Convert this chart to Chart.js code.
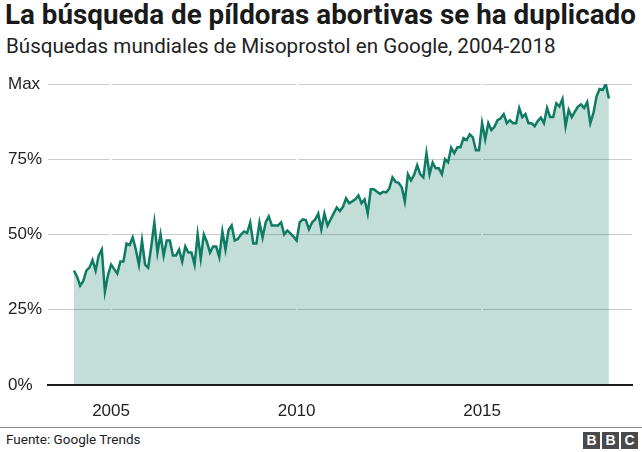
<!DOCTYPE html>
<html>
<head>
<meta charset="utf-8">
<script src="https://cdn.jsdelivr.net/npm/chart.js@4.4.1/dist/chart.umd.min.js"></script>
<style>
    html, body { margin: 0; padding: 0; background: #fff; }
    body { width: 642px; height: 452px; position: relative; overflow: hidden; color: #222; font-family: Roboto, sans-serif; }
    #title { position: absolute; left: 5px; top: -2px; font-weight: bold; font-size: 27.8px; white-space: nowrap; color: #1a1a1a; }
    #subtitle { position: absolute; left: 6px; top: 34px; font-size: 20.6px; white-space: nowrap; }
    #wrap { position: absolute; left: 0; top: 60px; width: 642px; height: 368px; }
    #rule { position: absolute; left: 0; top: 427px; width: 642px; height: 0; border-top: 1px solid #8a8a8a; }
    #source { position: absolute; left: 6px; top: 431px; font-size: 13.5px; white-space: nowrap; }
    #logo { position: absolute; left: 583px; top: 432px; display: flex; gap: 2px; }
    #logo span { width: 17px; height: 17px; background: #4a4a4a; color: #fff; font: bold 14px "Liberation Sans", sans-serif; text-align: center; line-height: 17px; }
</style>
</head>
<body>
<div id="title">La búsqueda de píldoras abortivas se ha duplicado</div>
<div id="subtitle">Búsquedas mundiales de Misoprostol en Google, 2004-2018</div>
<div id="wrap"><canvas id="chart"></canvas></div>
<div id="rule"></div>
<div id="source">Fuente: Google Trends</div>
<div id="logo"><span>B</span><span>B</span><span>C</span></div>
<script>
// monthly series, Jan 2004 onwards (share of the peak month)
const startYear = 2004;
const searches = [
    38, 36, 33, 34.5, 38, 39, 41.5, 38, 43, 45, 31, 36.5,
    40, 38.5, 37, 41, 41, 47, 46.5, 49, 45, 40, 48, 40,
    39, 46, 54, 44, 50, 43, 48, 48, 43, 43, 45, 41,
    46, 44, 44, 40, 50, 42, 50, 47.5, 44, 46, 46, 42.5,
    51, 45, 51.5, 53, 48, 48.5, 50, 51, 50.5, 54, 47, 47,
    54, 49, 54, 56, 53, 53, 53, 54, 50, 51.3, 50.4, 49.3,
    48, 54, 55, 54.8, 51.7, 54, 55, 57, 51.7, 57, 53, 55,
    57, 59, 57.8, 59.2, 62, 60.4, 61, 61.7, 63, 60.4, 61.7, 57,
    65, 65, 64.2, 63.5, 64.2, 64, 65.3, 69, 67.5, 67.2, 65.7, 61,
    70, 68, 69.8, 73, 70, 69, 77, 70, 73.9, 72, 72, 70,
    75, 74, 78.8, 77, 79, 79, 82, 81.4, 83.3, 82.3, 78, 78,
    87, 81.6, 87, 84.7, 85.8, 88, 88.6, 90, 87, 88, 87, 87,
    92, 89, 90, 87, 87, 86, 87.7, 88.8, 87, 92, 89, 89,
    93.6, 92.5, 95, 86, 91.4, 89, 90.8, 92.5, 93.2, 92, 94, 87,
    90.3, 95.8, 98.3, 98, 100, 95.2
];
const yearTicks = [2005, 2010, 2015];
const yTicks = [0, 25, 50, 75, 100];

const points = searches.map((v, i) => ({ x: startYear + i / 12, y: v }));
const tickFont = { family: 'Liberation Sans', size: 17 };

new Chart(document.getElementById('chart'), {
    type: 'line',
    data: {
        datasets: [{
            data: points,
            borderColor: '#0f7b62',
            backgroundColor: 'rgba(15,123,98,0.25)',
            borderWidth: 2.5,
            fill: 'origin',
            pointRadius: 0,
            tension: 0,
        }],
    },
    options: {
        responsive: true,
        maintainAspectRatio: false,
        animation: false,
        layout: { padding: { top: 24, left: 8, right: 10, bottom: 0 } },
        plugins: { legend: { display: false }, tooltip: { enabled: false } },
        scales: {
            y: {
                min: 0,
                max: 100,
                border: { display: false },
                grid: { color: (c) => (c.tick.value === 0 ? 'rgba(0,0,0,0)' : '#cccccc'), drawTicks: false, z: -1 },
                afterBuildTicks: (s) => { s.ticks = yTicks.map((v) => ({ value: v })); },
                afterFit: (s) => { s.width = 40; },
                ticks: {
                    crossAlign: 'far',
                    font: tickFont,
                    color: '#222',
                    callback: (v) => (v === 100 ? 'Max' : v + '%'),
                },
            },
            x: {
                type: 'linear',
                min: 2003.3,
                max: 2019.04,
                border: { color: '#1a1a1a', width: 2, z: 1 },
                grid: { color: '#ffffff', lineWidth: 2, drawTicks: false, z: 0 },
                afterBuildTicks: (s) => { s.ticks = yearTicks.map((v) => ({ value: v })); },
                afterFit: (s) => { s.height = 43; },
                ticks: { font: tickFont, color: '#222', padding: 16, callback: (v) => String(v) },
            },
        },
    },
});
</script>
</body>
</html>
